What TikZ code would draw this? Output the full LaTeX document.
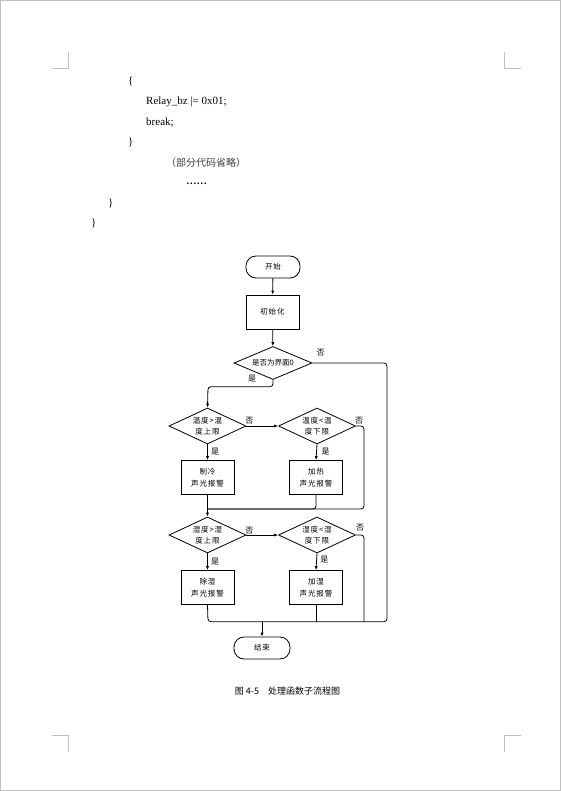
\documentclass[tikz,border=0pt]{standalone}
\usepackage{fontspec}
\setmainfont{Liberation Serif}
\newfontfamily\cjk{Noto Sans CJK SC}
\newfontfamily\cjksp[LetterSpace=12]{Noto Sans CJK SC}
\usetikzlibrary{shapes.geometric,arrows.meta}
\begin{document}
\begin{tikzpicture}[x=1pt,y=-1pt,
  line/.style={draw=black,line width=0.8pt},
  arr/.style={line,-{Latex[length=4pt,width=3.2pt]}},
  term/.style={draw,line width=0.8pt,rounded corners=10pt,minimum width=54pt,minimum height=22pt,inner sep=0pt,font=\cjksp\fontsize{7.5}{9}\selectfont},
  proc/.style={draw,line width=0.8pt,minimum width=53pt,minimum height=34pt,inner sep=0pt,align=center,font=\cjksp\fontsize{7.5}{11.5}\selectfont},
  dec/.style={draw,line width=0.8pt,diamond,minimum width=77pt,minimum height=36pt,inner sep=0pt},
  dtext/.style={align=center,inner sep=0pt,font=\cjksp\fontsize{7.5}{11.5}\selectfont},
  yn/.style={font=\cjk\fontsize{8}{9}\selectfont,inner sep=0pt},
  code/.style={font=\fontsize{11}{13}\selectfont,inner sep=0pt},
  crop/.style={draw=black!25,line width=0.8pt}
]
\useasboundingbox (0,0) rectangle (561,791);
\draw[black!25,line width=0.8pt] (0.5,0.5) rectangle (560.5,790.5);

% crop marks
\draw[crop] (68,52) -- (68,68) -- (52,68);
\draw[crop] (504,52) -- (504,68) -- (521,68);
\draw[crop] (52,735) -- (68,735) -- (68,752);
\draw[crop] (521,735) -- (504,735) -- (504,752);

% code text
\node[code,anchor=west] (c1) at (128,81) {\{};
\node[code,anchor=base west] (c2) at (146,104.5) {Relay\_bz |= 0x01;};
\node[code,anchor=base west] (c3) at (146,125.5) {break;};
\node[code,anchor=west] (c4) at (128,142) {\}};
\node[anchor=west,inner sep=0pt,text=black!75,font=\cjk\fontsize{10}{12}\selectfont] (c5) at (166,162.5) {（部分代码省略）};
\node[code,anchor=base west,font=\bfseries\fontsize{10.5}{12}\selectfont] (c6) at (186,184.5) {……};
\node[code,anchor=west] (c7) at (108,203) {\}};
\node[code,anchor=west] (c8) at (91,223) {\}};

% flowchart
\node[term] (start) at (273,267) {开始};
\node[proc] (init) at (272.5,312) {初始化};
\node[dec,minimum width=78pt,minimum height=33pt,label={[dtext,font=\cjk\fontsize{7.5}{9}\selectfont]center:是否为界面0}] (d0) at (273,363) {};
\node[dec,label={[dtext]center:温度>温\\度上限}] (d1) at (207.5,426) {};
\node[dec,label={[dtext]center:温度<温\\度下限}] (d2) at (317,426) {};
\node[proc] (b1) at (207.5,477.5) {制冷\\声光报警};
\node[proc] (b2) at (316,477.5) {加热\\声光报警};
\node[dec,label={[dtext]center:湿度>湿\\度上限}] (d3) at (207.5,535) {};
\node[dec,label={[dtext]center:湿度<湿\\度下限}] (d4) at (317,535) {};
\node[proc] (b3) at (207.5,587.5) {除湿\\声光报警};
\node[proc] (b4) at (316,587.5) {加湿\\声光报警};
\node[term,minimum width=56pt] (stop) at (262,648) {结束};

% junction coordinates
\coordinate (j0) at (273,386.7);
\coordinate (j1) at (208,386.7);
\coordinate (r0) at (387,363);
\coordinate (r1) at (387,621.7);
\coordinate (m1) at (364,426);
\coordinate (m2) at (364,509);
\coordinate (m3) at (208,509);
\coordinate (m4) at (316,509);
\coordinate (n1) at (364,535);
\coordinate (n2) at (364,621.7);
\coordinate (n3) at (208,621.7);
\coordinate (n4) at (316,621.7);
\coordinate (n5) at (262,621.7);

% connectors
\draw[arr] (start) -- (init);
\draw[arr] (init) -- (d0);
\draw[line,rounded corners=3pt] (d0.east) -- (r0) -- (r1) -- (n5);
\draw[arr,rounded corners=3pt] (d0.south) -- (j0) -- (j1) -- (d1.north);
\draw[arr] (d1.east) -- (d2.west);
\draw[arr] (d1.south) -- (b1.north);
\draw[arr] (d2.south) -- (b2.north);
\draw[line,rounded corners=3pt] (d2.east) -- (m1) -- (m2) -- (m3);
\draw[line,rounded corners=3pt] (b2.south) -- (m4) -- (m3);
\draw[arr] (b1.south) -- (d3.north);
\draw[arr] (d3.east) -- (d4.west);
\draw[arr] (d3.south) -- (b3.north);
\draw[arr] (d4.south) -- (b4.north);
\draw[line,rounded corners=3pt] (d4.east) -- (n1) -- (n2);
\draw[line,rounded corners=3pt] (b3.south) -- (n3) -- (n5);
\draw[line,rounded corners=3pt] (b4.south) -- (n4);
\draw[arr] (n5) -- (stop.north);

% yes/no labels
\node[yn] (l0n) at (320.7,352.7) {否};
\node[yn] (l0y) at (252,379) {是};
\node[yn] (l1n) at (249.3,420.7) {否};
\node[yn] (l2n) at (359,420.7) {否};
\node[yn] (l1y) at (215,452) {是};
\node[yn] (l2y) at (325.7,452) {是};
\node[yn] (l3n) at (249.3,530.7) {否};
\node[yn] (l4n) at (360,527.3) {否};
\node[yn] (l3y) at (215,561.7) {是};
\node[yn] (l4y) at (324.3,560) {是};

% caption
\node[inner sep=0pt,font=\cjk\fontsize{9}{11}\selectfont] (cap) at (287.5,691) {图 4-5\quad 处理函数子流程图};
\end{tikzpicture}
\end{document}
